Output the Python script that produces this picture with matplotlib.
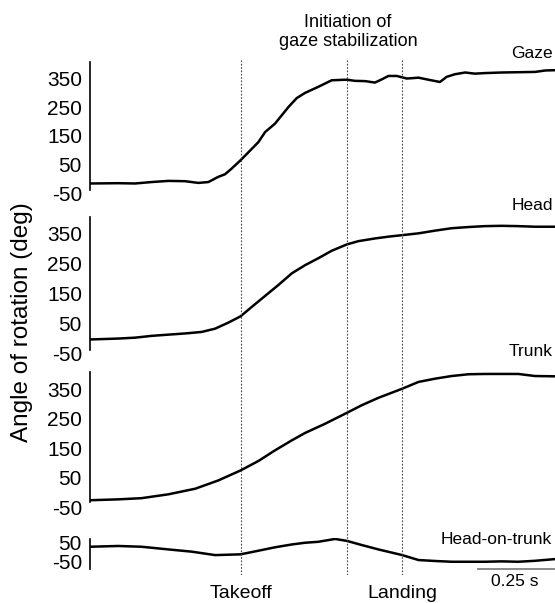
import matplotlib
matplotlib.use("Agg")
import matplotlib.pyplot as plt

plt.rcParams['font.family'] = ['Liberation Sans', 'DejaVu Sans']
plt.rcParams['axes.unicode_minus'] = False

W, H = 555, 603

# time in seconds, angles in degrees
gaze_t = [0, 0.092, 0.147, 0.201, 0.255, 0.310, 0.353, 0.386, 0.418, 0.440, 0.462,
          0.491, 0.516, 0.549, 0.571, 0.603, 0.625, 0.647, 0.674, 0.701, 0.744,
          0.788, 0.837, 0.864, 0.897, 0.929, 0.951, 0.973, 1.000, 1.033, 1.071,
          1.103, 1.141, 1.163, 1.190, 1.223, 1.255, 1.288, 1.342, 1.396, 1.451,
          1.484, 1.516]
gaze_deg = [-16, -15, -16, -11, -7, -8, -14, -11, 7, 16, 36,
            65, 92, 128, 163, 192, 221, 250, 281, 299, 320,
            343, 345, 341, 340, 335, 346, 358, 358, 349, 352,
            345, 337, 355, 364, 370, 366, 368, 370, 371, 372,
            377, 378]

head_t = [0, 0.092, 0.147, 0.201, 0.255, 0.310, 0.364, 0.408, 0.451, 0.491,
          0.527, 0.571, 0.614, 0.658, 0.701, 0.744, 0.788, 0.837, 0.875, 0.929,
          0.973, 1.018, 1.071, 1.125, 1.179, 1.234, 1.288, 1.342, 1.396, 1.451,
          1.516]
head_deg = [-4, -1, 2, 8, 12, 16, 21, 32, 52, 73,
            104, 141, 177, 216, 243, 266, 291, 312, 323, 332,
            338, 343, 349, 358, 366, 370, 373, 374, 373, 371,
            371]

trunk_t = [0, 0.092, 0.168, 0.255, 0.343, 0.418, 0.491, 0.549, 0.603, 0.658,
           0.701, 0.766, 0.837, 0.886, 0.940, 1.018, 1.071, 1.125, 1.179, 1.234,
           1.288, 1.342, 1.396, 1.451, 1.516]
trunk_deg = [-27, -24, -20, -7, 12, 40, 74, 106, 142, 176,
             201, 232, 269, 295, 320, 351, 374, 385, 394, 400,
             401, 401, 401, 394, 393]

hot_t = [0, 0.092, 0.168, 0.255, 0.332, 0.408, 0.491, 0.549, 0.603, 0.658,
         0.701, 0.744, 0.799, 0.837, 0.886, 0.940, 1.018, 1.071, 1.125, 1.179,
         1.234, 1.288, 1.342, 1.396, 1.451, 1.516]
hot_deg = [29, 33, 29, 15, 3, -15, -11, 8, 26, 41,
           50, 55, 70, 60, 38, 15, -15, -41, -46, -50,
           -50, -50, -48, -50, -45, -36]

event_t = [0.491, 0.837, 1.018]
event_names = ["Takeoff", "", "Landing"]

panels = [
    # name, t, deg, ticks, ylim, spine bounds, top px, bottom px
    ("Gaze", gaze_t, gaze_deg, [-50, 50, 150, 250, 350], (-55, 410), (-38, 408), 61.0, 194.7),
    ("Head", head_t, head_deg, [-50, 50, 150, 250, 350], (-55, 410), (-38, 404), 215.0, 354.8),
    ("Trunk", trunk_t, trunk_deg, [-50, 50, 150, 250, 350], (-55, 410), (-33, 408), 371.3, 508.5),
    ("Head-on-trunk", hot_t, hot_deg, [-50, 50], (-95, 75), (-90, 70), 538.0, 570.3),
]

T_END = 1.516
left = 90 / W
width = (W - 90) / W

fig = plt.figure(figsize=(W / 100, H / 100), dpi=100)

for name, t, deg, ticks, ylim, bounds, top, bot in panels:
    ax = fig.add_axes([left, 1 - bot / H, width, (bot - top) / H])
    ax.plot(t, deg, color="black", lw=1.8, solid_joinstyle="round", solid_capstyle="round")
    ax.set_xlim(0, T_END)
    ax.set_ylim(*ylim)
    ax.set_yticks(ticks)
    ax.set_xticks([])
    for s in ["top", "right", "bottom"]:
        ax.spines[s].set_visible(False)
    ax.spines["left"].set_bounds(*bounds)
    ax.spines["left"].set_linewidth(1.2)
    ax.tick_params(axis="y", length=0, pad=5.8, labelsize=15)
    ax.patch.set_alpha(0)

# dotted event lines across all panels
over = fig.add_axes([left, 1 - 575 / H, width, (575 - 60) / H])
over.set_xlim(0, T_END)
over.set_ylim(0, 1)
over.axis("off")
for et in event_t:
    over.axvline(et, color="#444444", lw=0.8, linestyle=(0, (1.5, 1.5)))

# scale bar 0.25 s
over.plot([T_END - 0.25, T_END], [(575 - 569) / (575 - 60)] * 2,
          color="#808080", lw=1.3, clip_on=False)
fig.text(515 / W, 1 - 582 / H, "0.25 s", ha="center", va="center", fontsize=12.5)

# trace names
fig.text(553 / W, 1 - 53 / H, "Gaze", ha="right", va="center", fontsize=12.5)
fig.text(553 / W, 1 - 205 / H, "Head", ha="right", va="center", fontsize=12.5)
fig.text(553 / W, 1 - 352 / H, "Trunk", ha="right", va="center", fontsize=12.5)
fig.text(552 / W, 1 - 540 / H, "Head-on-trunk", ha="right", va="center", fontsize=12.5)

fig.text(348 / W, 1 - 32 / H, "Initiation of\ngaze stabilization", ha="center",
         va="center", fontsize=13, linespacing=1.2)

for et, nm in zip(event_t, event_names):
    if nm:
        fig.text((90 + et * 306.7) / W, 1 - 593 / H, nm, ha="center", va="center", fontsize=14)

fig.text(22 / W, 1 - 322 / H, "Angle of rotation (deg)", rotation=90,
         ha="center", va="center", fontsize=17.5)

fig.savefig("out.png", dpi=100)
